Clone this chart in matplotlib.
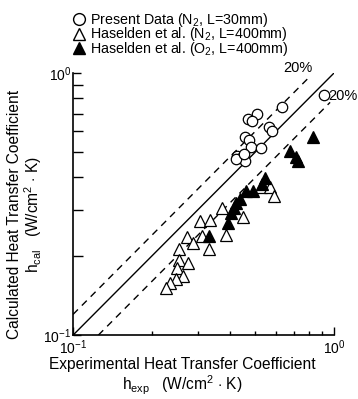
import numpy as np
import matplotlib
matplotlib.use("Agg")
import matplotlib.pyplot as plt
from matplotlib.lines import Line2D

plt.rcParams['font.family'] = ['Liberation Sans', 'DejaVu Sans']
plt.rcParams['mathtext.fontset'] = 'custom'
plt.rcParams['mathtext.rm'] = 'Liberation Sans'
plt.rcParams['mathtext.it'] = 'Liberation Sans:italic'

# present data, N2, L=30mm  (h_exp, h_cal)
present_exp = [0.632, 0.470, 0.505, 0.485, 0.562, 0.578, 0.454, 0.472, 0.481,
               0.525, 0.425, 0.439, 0.456, 0.421, 0.452, 0.917]
present_cal = [0.741, 0.670, 0.696, 0.656, 0.622, 0.601, 0.570, 0.553, 0.522,
               0.517, 0.483, 0.474, 0.462, 0.469, 0.491, 0.824]

# Haselden et al., N2, L=400mm
hn2_exp = [0.372, 0.307, 0.334, 0.448, 0.384, 0.313, 0.273, 0.288, 0.255, 0.332,
           0.525, 0.566, 0.589, 0.254, 0.276, 0.250, 0.265, 0.248, 0.235, 0.227]
hn2_cal = [0.305, 0.272, 0.274, 0.282, 0.241, 0.239, 0.236, 0.225, 0.214, 0.214,
           0.367, 0.367, 0.340, 0.194, 0.188, 0.180, 0.168, 0.164, 0.158, 0.151]

# Haselden et al., O2, L=400mm
ho2_exp = [0.829, 0.676, 0.718, 0.728, 0.546, 0.530, 0.488, 0.460, 0.436, 0.420,
           0.414, 0.403, 0.392, 0.332]
ho2_cal = [0.572, 0.505, 0.479, 0.460, 0.398, 0.378, 0.356, 0.355, 0.332, 0.319,
           0.305, 0.292, 0.268, 0.239]

band = 0.2  # +/-20% lines

fig = plt.figure(figsize=(3.58, 3.99), dpi=100)
ax = fig.add_axes([0.204, 0.160, 0.729, 0.657])

ax.set_xscale('log')
ax.set_yscale('log')
ax.set_xlim(0.1, 1.0)
ax.set_ylim(0.1, 1.0)

# reference lines
xs = np.array([0.1, 1.0])
ax.plot(xs, xs, color='black', lw=1.0)
xu = np.array([0.1, 0.95 / (1 + band)])
ax.plot(xu, xu * (1 + band), color='black', lw=1.0, ls=(0, (5, 4)))
xl = np.array([0.1 / (1 - band), 0.966])
ax.plot(xl, xl * (1 - band), color='black', lw=1.0, ls=(0, (5, 4)))

ax.text(0.725, 1.045, '20%', fontsize=10.5, ha='center', va='center', clip_on=False)
ax.text(0.948, 0.82, '20%', fontsize=10.5, ha='left', va='center', clip_on=False)

ax.plot(present_exp, present_cal, 'o', ms=7.5, mfc='white', mec='black', mew=0.9,
        clip_on=False)
ax.plot(hn2_exp, hn2_cal, '^', ms=8, mfc='white', mec='black', mew=0.9)
ax.plot(ho2_exp, ho2_cal, '^', ms=8, mfc='black', mec='black', mew=0.9)

for s in ['top', 'right']:
    ax.spines[s].set_visible(False)
ax.spines['left'].set_linewidth(1.2)
ax.spines['bottom'].set_linewidth(1.2)

ax.set_xticks([0.1, 1.0])
ax.set_xticklabels([r'$10^{-1}$', r'$10^{0}$'])
ax.set_yticks([0.1, 1.0])
ax.set_yticklabels([r'$10^{-1}$', r'$10^{0}$'])
ax.tick_params(which='major', direction='in', length=6, labelsize=10, width=1)
ax.tick_params(axis='y', which='minor', direction='in', length=7, width=1)
ax.tick_params(axis='x', which='minor', direction='in', length=3, width=1)
ax.yaxis.set_minor_formatter(plt.NullFormatter())
ax.xaxis.set_minor_formatter(plt.NullFormatter())
ax.tick_params(axis='x', pad=2)
ax.tick_params(axis='y', pad=1)

ax.set_xlabel('Experimental Heat Transfer Coefficient\n'
              r'h$_{\mathrm{exp}}$   (W/cm$^{2}$ $\cdot$ K)', fontsize=11.2,
              linespacing=1.05)
ax.set_ylabel('Calculated Heat Transfer Coefficient\n'
              r'h$_{\mathrm{cal}}$   (W/cm$^{2}$ $\cdot$ K)', fontsize=11.2,
              linespacing=1.05)
ax.xaxis.set_label_coords(0.42, -0.085)
ax.yaxis.set_label_coords(-0.11, 0.46)

handles = [
    Line2D([], [], marker='o', ls='none', ms=8.5, mfc='white', mec='black', mew=1.0),
    Line2D([], [], marker='^', ls='none', ms=8.5, mfc='white', mec='black', mew=1.0),
    Line2D([], [], marker='^', ls='none', ms=8.5, mfc='black', mec='black', mew=1.0),
]
labels = [r'Present Data (N$_2$, L=30mm)',
          r'Haselden et al. (N$_2$, L=400mm)',
          r'Haselden et al. (O$_2$, L=400mm)']
fig.legend(handles, labels, loc='upper left', bbox_to_anchor=(0.185, 0.987),
           frameon=False, fontsize=10.3, handletextpad=0.25, labelspacing=-0.25,
           handlelength=1.0, handleheight=0.5, borderaxespad=0)

fig.savefig('out.png', dpi=100)
